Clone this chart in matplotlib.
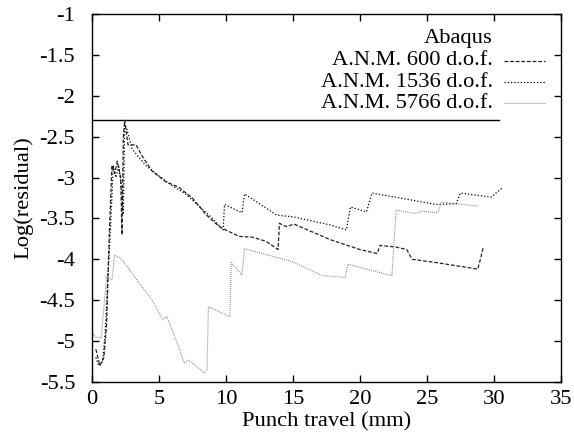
import matplotlib
matplotlib.use("Agg")
import matplotlib.pyplot as plt

plt.rcParams["font.family"] = ["Liberation Serif", "DejaVu Serif"]
plt.rcParams["font.size"] = 16.2

# Abaqus reference level
abaqus_x = [0.0, 30.4]
abaqus_y = [-2.3, -2.3]

# A.N.M. 600 d.o.f.
anm600_x = [0.3, 0.6, 0.9, 1.1, 1.3, 1.5, 1.7, 1.9, 2.15, 2.25, 2.35, 2.45, 2.7, 3.3,
            3.8, 4.5, 5.5, 6.5, 7.5, 8.5, 9.5, 10.1, 11.0, 12.0, 13.0, 13.9, 14.0,
            14.5, 15.1, 17.8, 20.0, 21.3, 21.5, 22.7, 23.5, 23.9, 25.7, 28.8, 29.0, 29.2]
anm600_y = [-5.1, -5.3, -5.2, -4.8, -3.7, -2.85, -2.95, -2.8, -3.0, -3.7, -2.5, -2.3,
            -2.6, -2.6, -2.75, -2.92, -3.05, -3.12, -3.25, -3.45, -3.6, -3.65, -3.72,
            -3.73, -3.78, -3.88, -3.56, -3.6, -3.57, -3.76, -3.88, -3.93, -3.83, -3.85,
            -3.88, -4.0, -4.04, -4.12, -4.0, -3.86]

# A.N.M. 1536 d.o.f.
anm1536_x = [0.3, 0.5, 0.8, 1.0, 1.2, 1.4, 1.6, 1.8, 2.0, 2.2, 2.35, 2.45, 2.6, 3.0,
             4.0, 5.0, 6.0, 7.0, 8.0, 9.0, 9.8, 9.9, 11.2, 11.4, 13.8, 15.0, 17.8,
             19.0, 19.3, 20.5, 20.9, 23.0, 25.7, 27.2, 27.5, 29.8, 30.6]
anm1536_y = [-5.2, -5.3, -5.25, -4.9, -4.2, -3.6, -2.85, -3.0, -2.85, -3.1, -3.45,
             -2.35, -2.4, -2.65, -2.85, -2.98, -3.1, -3.2, -3.35, -3.5, -3.64, -3.33,
             -3.43, -3.2, -3.46, -3.48, -3.58, -3.64, -3.36, -3.42, -3.19, -3.25,
             -3.33, -3.32, -3.19, -3.24, -3.13]

# A.N.M. 5766 d.o.f.
anm5766_x = [0.0, 0.2, 0.7, 1.1, 1.5, 1.7, 2.1, 2.7, 3.7, 4.5, 5.3, 5.6, 6.3, 6.9, 7.2,
             8.4, 8.6, 8.7, 10.3, 10.4, 11.2, 11.4, 15.0, 17.2, 18.9, 19.1, 22.4,
             22.7, 24.2, 24.6, 25.8, 26.1, 28.8]
anm5766_y = [-4.86, -4.95, -4.96, -4.21, -4.25, -3.95, -3.98, -4.1, -4.33, -4.5, -4.74,
             -4.7, -4.99, -5.27, -5.23, -5.39, -5.35, -4.58, -4.7, -4.04, -4.19, -3.87,
             -4.03, -4.2, -4.22, -4.06, -4.2, -3.4, -3.44, -3.41, -3.43, -3.3, -3.35]

s600 = dict(color="#222222", lw=0.9, dashes=(3, 1.5))
s1536 = dict(color="black", lw=0.9, dashes=(1, 1.6))
s5766 = dict(color="#6e6e6e", lw=0.8, dashes=(0.7, 1.1))

fig = plt.figure(figsize=(5.74, 4.45), dpi=100)
ax = fig.add_axes([0.160, 0.1416, 0.817, 0.827])

ax.plot(abaqus_x, abaqus_y, color="black", lw=1.0)
ax.plot(anm600_x, anm600_y, **s600)
ax.plot(anm1536_x, anm1536_y, **s1536)
ax.plot(anm5766_x, anm5766_y, **s5766)

ax.set_xlim(0, 35)
ax.set_ylim(-5.5, -1)
ax.set_xticks(range(0, 36, 5))
ax.set_yticks([-5.5, -5, -4.5, -4, -3.5, -3, -2.5, -2, -1.5, -1])
ax.set_yticklabels(["-5.5", "-5", "-4.5", "-4", "-3.5", "-3", "-2.5", "-2", "-1.5", "-1"])
ax.tick_params(direction="in", top=True, right=True, length=5, width=1)
ax.tick_params(axis="y", pad=12)
ax.tick_params(axis="x", pad=6)
for s in ax.spines.values():
    s.set_linewidth(1.0)

ax.set_xlabel("Punch travel (mm)", labelpad=2)
ax.set_ylabel("Log(residual)", labelpad=4)

# legend drawn gnuplot-style: right-aligned text, sample to the right
labels = ["Abaqus", "A.N.M. 600 d.o.f.", "A.N.M. 1536 d.o.f.", "A.N.M. 5766 d.o.f."]
styles = [None, s600, s1536, s5766]
row_y = [0.932, 0.873, 0.815, 0.757]
for lab, st, yy in zip(labels, styles, row_y):
    ax.text(0.855, yy, lab, transform=ax.transAxes, ha="right", va="center")
    if st is not None:
        ax.plot([0.879, 0.967], [yy, yy], transform=ax.transAxes, **st)

fig.savefig("out.png", dpi=100)
